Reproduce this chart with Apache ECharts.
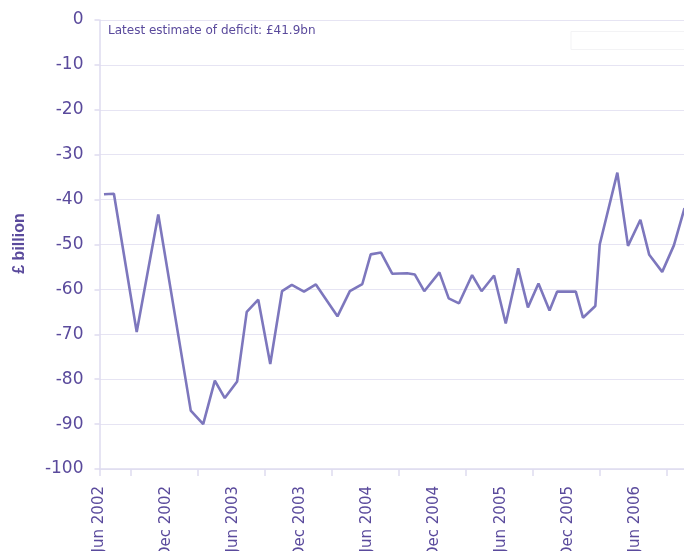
<!DOCTYPE html>
<html>
<head>
<meta charset="utf-8">
<script src="https://cdn.jsdelivr.net/npm/echarts@6/dist/echarts.min.js"></script>
<style>html,body{margin:0;padding:0;background:#fff;}#c{width:684px;height:551px;}</style>
</head>
<body>
<div id="c"></div>
<script>
// Observation dates and deficit estimates (£ billion)
var dates = ['2002-06-13','2002-07-10','2002-09-11','2002-11-09','2003-02-06','2003-03-10','2003-04-11','2003-05-08','2003-06-11','2003-07-07','2003-08-08','2003-09-10','2003-10-12','2003-11-08','2003-12-11','2004-01-13','2004-03-11','2004-04-14','2004-05-18','2004-06-10','2004-07-08','2004-08-08','2004-09-18','2004-10-09','2004-11-04','2004-12-15','2005-01-10','2005-02-07','2005-03-13','2005-04-08','2005-05-12','2005-06-13','2005-07-17','2005-08-13','2005-09-11','2005-10-11','2005-11-01','2005-12-22','2006-01-11','2006-02-13','2006-02-24','2006-04-13','2006-05-12','2006-06-15','2006-07-09','2006-08-14','2006-09-15','2006-10-14'];
var values = [-38.8,-38.7,-69.5,-43.3,-87.0,-90.0,-80.3,-84.2,-80.5,-65.0,-62.3,-76.6,-60.4,-59.0,-60.5,-58.9,-66.0,-60.4,-58.8,-52.2,-51.8,-56.5,-56.4,-56.7,-60.4,-56.2,-62.0,-63.1,-56.8,-60.4,-56.9,-67.6,-55.3,-64.0,-58.7,-64.7,-60.5,-60.5,-66.3,-63.7,-50.0,-34.0,-50.3,-44.5,-52.3,-56.1,-50.2,-41.9];
var monthNames = ['Jun','Dec'];
var yTicks = [0,-10,-20,-30,-40,-50,-60,-70,-80,-90,-100];
var annotation = 'Latest estimate of deficit: £41.9bn';
var yName = '£ billion';

function monthPos(d){
  var p = d.split('-'); var y=+p[0], m=+p[1], day=+p[2];
  var dim = new Date(y, m, 0).getDate();
  return (y-2002)*12 + (m-6) + (day-1)/dim;
}
var seriesData = dates.map(function(d,i){ return [monthPos(d), values[i]]; });
var xMax = 53;
var tickVals = [0];
for (var t = 2.8; t < xMax; t += 6) tickVals.push(t);

var txt = '#5a4a9c';
var axisCol = '#dedbef';
var font = 'DejaVu Sans, Verdana, sans-serif';

var chart = echarts.init(document.getElementById('c'), null, {renderer:'canvas'});
chart.setOption({
  animation: false,
  backgroundColor: '#ffffff',
  grid: {left: 99.5, top: 20, width: 591.5, height: 449, containLabel: false, outerBoundsMode: 'none'},
  title: {text: annotation, left: 108, top: 25, padding: 0, textStyle: {fontFamily: font, fontSize: 12, fontWeight: 'normal', color: txt}},
  graphic: [
    {type:'text', x: 20, y: 243.5, rotation: Math.PI/2, style: {text: yName, font: 'bold 16px Liberation Sans, Arial, sans-serif', fill: txt, align: 'center', verticalAlign: 'middle'}},
    {type:'rect', shape:{x:571, y:31.5, width:130, height:18}, style:{fill:'none', stroke:'#f3f3f5', lineWidth:1}}
  ],
  xAxis: [
    {type:'value', min:0, max:xMax, interval:6, position:'bottom',
      axisLine:{show:true, onZero:false, lineStyle:{color:axisCol, width:1.5}},
      axisTick:{show:false}, splitLine:{show:false},
      axisLabel:{rotate:90, margin:17, fontSize:15, fontFamily:font, color:txt, showMaxLabel:false,
        formatter:function(v){ var k=Math.round(v/6); return monthNames[k%2] + ' ' + (2002 + Math.floor(k/2)); }}},
    {type:'value', min:0, max:xMax, position:'bottom',
      axisLine:{show:false, onZero:false}, splitLine:{show:false}, axisLabel:{show:false},
      axisTick:{show:true, length:7, customValues: tickVals, lineStyle:{color:axisCol, width:1.5}}}
  ],
  yAxis: {type:'value', min:-100, max:0, interval:10,
    axisLine:{show:true, onZero:false, lineStyle:{color:axisCol, width:1.5}},
    axisTick:{show:true, length:5, lineStyle:{color:axisCol, width:1.5}},
    splitLine:{show:true, lineStyle:{color:'#e6e4f3', width:1.2}},
    axisLabel:{margin:16, fontSize:17, fontFamily:font, color:txt}},
  series: [{type:'line', xAxisIndex:0, data: seriesData, symbol:'none', smooth:false,
    lineStyle:{color:'#7d77bd', width:2.6}}]
});
</script>
</body>
</html>
